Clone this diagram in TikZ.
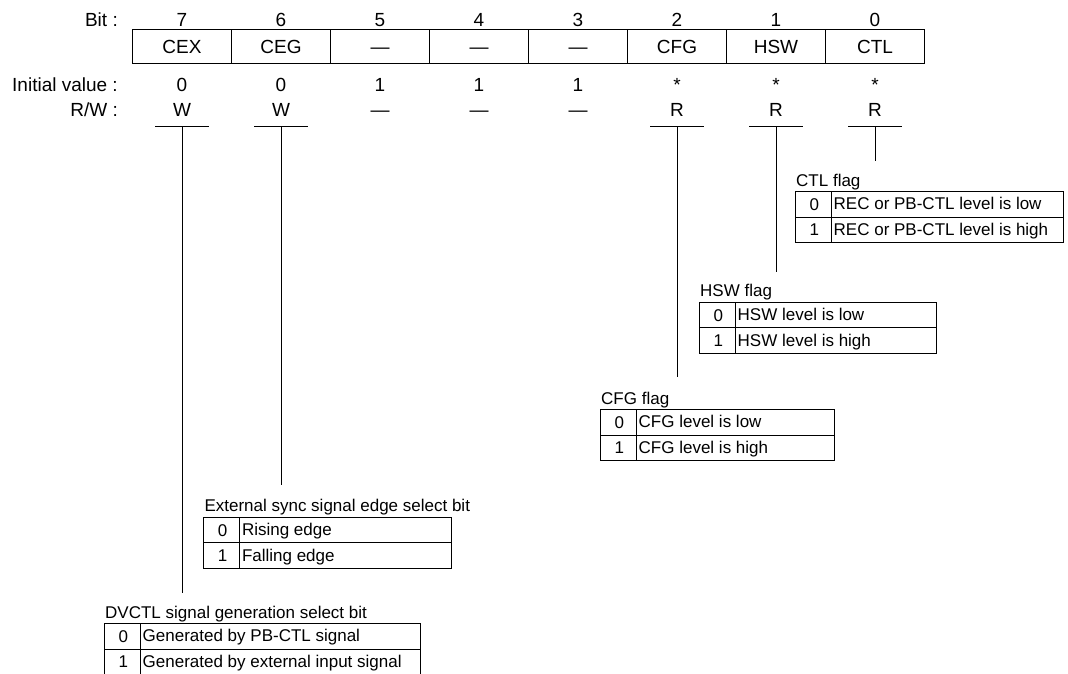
\documentclass[tikz,border=0pt]{standalone}
\usepackage{fontspec}
\setmainfont{Liberation Sans}
\newcommand\regfont{\fontsize{19}{22}\selectfont}
\newcommand\tabfont{\fontsize{17}{20}\selectfont}
\tikzset{
  reg/.style={draw, line width=1.2pt, minimum width=99pt, minimum height=33.6pt,
    inner sep=0pt, font=\regfont, text height=13.6pt, text depth=0pt},
  lbl/.style={inner sep=0pt, font=\regfont, text height=13.6pt, text depth=0pt},
  tcell/.style={draw, line width=1.1pt, minimum height=25.5pt, inner sep=0pt,
    font=\tabfont, text height=12.2pt, text depth=0pt, anchor=north west},
  ttext/.style={inner sep=0pt, font=\tabfont, text height=12.2pt, text depth=0pt, anchor=west},
  conn/.style={line width=0.9pt},
  uline/.style={line width=0.9pt},
}
% #1 name, #2 x, #3 y top, #4 total width, #5 title, #6 text0, #7 text1
\newcommand\flagtbl[7]{%
  \node[ttext] (#1title) at (#2+1,#3-11) {#5};
  \node[tcell, minimum width=35.5pt] (#1d0) at (#2,#3) {\hspace{2pt}0};
  \node[tcell, minimum width=#4pt-35.5pt] (#1b0) at (#2+35.5,#3) {};
  \node[tcell, minimum width=35.5pt] (#1d1) at (#2,#3+25.5) {\hspace{2pt}1};
  \node[tcell, minimum width=#4pt-35.5pt] (#1b1) at (#2+35.5,#3+25.5) {};
  \node[ttext] (#1t0) at (#2+38.5,#3+12.75) {#6};
  \node[ttext] (#1t1) at (#2+38.5,#3+38.25) {#7};
}
\begin{document}
\begin{tikzpicture}[x=1pt,y=-1pt]
\useasboundingbox (0,0) rectangle (1068,673);

% left labels
\node[lbl, anchor=east] (lbit) at (118,19.5) {Bit :};
\node[lbl, anchor=east] (linit) at (118,84.5) {Initial value :};
\node[lbl, anchor=east] (lrw) at (118,109.5) {R/W :};

% register
\foreach \b/\n/\iv/\rw [count=\i from 0] in {7/CEX/0/W, 6/CEG/0/W, 5/—/1/—, 4/—/1/—, 3/—/1/—, 2/CFG/*/R, 1/HSW/*/R, 0/CTL/*/R}{
  \pgfmathsetmacro\cx{182+99*\i}
  \node[lbl] (bit\b) at (\cx,19.5) {\b};
  \node[reg] (c\b) at (\cx,46.5) {\n};
  \node[lbl] (iv\b) at (\cx,84.5) {\iv};
  \node[lbl] (rw\b) at (\cx,109.5) {\rw};
  \coordinate (u\b) at (\cx,126.7);
}

% underlines
\foreach \b in {7,6,2,1,0}{
  \draw[uline] ([xshift=-27pt]u\b) -- ([xshift=27pt]u\b);
}

% connector ends
\coordinate (e0) at (875,161);
\coordinate (e1) at (776,271.7);
\coordinate (e2) at (677,377.3);
\coordinate (e6) at (281,485);
\coordinate (e7) at (182,593.3);
\foreach \b in {7,6,2,1,0}{
  \draw[conn] (u\b) -- (e\b);
}

% tables
\flagtbl{ctl}{795}{191}{267.7}{CTL flag}{REC or PB-CTL level is low}{REC or PB-CTL level is high}
\flagtbl{hsw}{699}{301.7}{237}{HSW flag}{HSW level is low}{HSW level is high}
\flagtbl{cfg}{600}{409}{234}{CFG flag}{CFG level is low}{CFG level is high}
\flagtbl{ext}{203.3}{516.7}{247.7}{External sync signal edge select bit}{Rising edge}{Falling edge}
\flagtbl{dv}{104}{623}{316}{DVCTL signal generation select bit}{Generated by PB-CTL signal}{Generated by external input signal}
\end{tikzpicture}
\end{document}
